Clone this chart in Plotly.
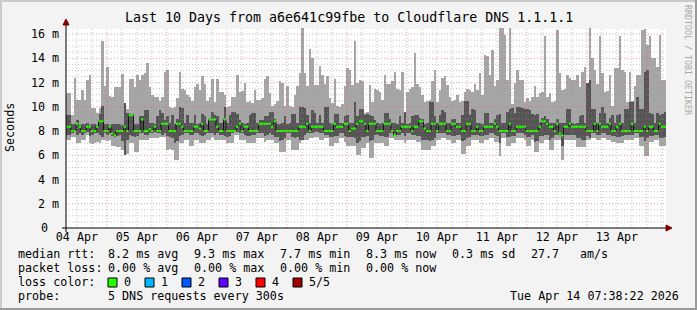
import plotly.graph_objects as go
import pandas as pd

# ---------------- data (hourly consolidated SmokePing values, ms) ----------------
START = "2026-04-04 07:38:22"
END = "2026-04-14 07:38:22"

# max ping (top of light smoke)
MX = [
11.1, 11.1, 9.3, 12.4, 10.6, 10.6, 11.4, 10.6, 12.2, 12.6, 9.9, 9.9, 9.5, 9.9, 15.4, 11.7, 13.3, 10.9, 10.8, 11.6,
11.6, 11.6, 12.7, 10.0, 9.8, 12.3, 12.3, 11.6, 12.6, 12.2, 12.6, 12.8, 13.6, 11.6, 11.0, 10.8, 10.8, 10.5, 10.8, 12.9,
13.0, 10.0, 9.9, 10.0, 10.7, 12.9, 11.5, 11.4, 11.0, 10.8, 10.5, 11.6, 11.9, 11.4, 12.5, 11.9, 10.5, 10.8, 12.3, 10.4,
12.3, 11.2, 11.2, 11.0, 10.0, 10.1, 10.8, 10.8, 12.6, 11.2, 11.3, 12.0, 10.4, 10.5, 10.3, 11.4, 10.6, 10.6, 10.7, 12.3,
12.5, 11.1, 10.1, 10.2, 10.5, 12.1, 12.0, 10.1, 11.7, 10.1, 10.0, 11.0, 11.7, 12.8, 16.5, 12.8, 11.7, 14.8, 14.0, 11.8,
11.8, 13.4, 12.6, 11.9, 12.5, 10.7, 10.3, 12.3, 10.1, 10.0, 10.2, 11.7, 13.2, 13.0, 11.8, 15.4, 12.0, 12.2, 12.1, 9.5,
9.6, 11.8, 10.4, 11.5, 11.4, 11.2, 10.6, 12.6, 11.9, 11.9, 12.1, 12.9, 11.5, 11.4, 12.9, 9.5, 11.2, 11.5, 11.6, 14.4,
11.9, 11.6, 11.0, 10.4, 10.5, 10.6, 12.1, 13.0, 10.4, 11.4, 12.4, 12.5, 11.8, 10.8, 10.5, 10.6, 11.0, 10.4, 10.5, 11.2,
11.5, 11.4, 11.2, 11.9, 11.4, 12.8, 11.0, 14.3, 14.2, 12.6, 14.7, 11.7, 12.2, 16.6, 16.5, 15.9, 12.2, 16.6, 10.2, 12.0,
13.0, 12.2, 12.2, 10.4, 10.7, 10.5, 10.8, 11.7, 10.8, 11.1, 11.2, 15.8, 10.8, 11.1, 10.4, 10.5, 16.3, 12.8, 11.4, 11.5,
12.6, 12.4, 12.2, 12.2, 12.6, 11.6, 12.9, 13.3, 11.5, 16.5, 14.0, 13.0, 11.9, 15.8, 12.8, 11.2, 11.3, 12.6, 10.1, 13.2,
13.2, 15.8, 13.0, 12.9, 10.4, 12.9, 10.5, 11.7, 12.6, 12.6, 16.3, 16.4, 15.1, 15.8, 14.0, 14.0, 13.3, 15.9, 12.2, 12.2,
]

# min ping (bottom of light smoke)
MN = [
7.3, 7.3, 7.5, 7.5, 7.0, 7.0, 7.3, 7.3, 7.7, 7.0, 6.9, 7.0, 7.1, 7.0, 7.3, 7.3, 7.2, 7.3, 6.8, 6.8,
6.7, 6.7, 6.4, 6.0, 6.1, 7.0, 7.0, 6.3, 6.3, 7.3, 7.3, 7.3, 7.3, 7.4, 7.4, 7.4, 7.4, 7.5, 7.5, 7.5,
6.4, 6.5, 6.4, 5.6, 5.6, 7.0, 7.0, 7.3, 7.3, 6.8, 6.8, 7.3, 7.3, 7.0, 7.0, 7.0, 7.3, 7.3, 7.5, 7.3,
7.3, 7.3, 7.3, 7.3, 7.0, 7.0, 7.0, 7.7, 7.7, 7.3, 7.3, 7.3, 7.0, 7.0, 7.0, 7.0, 7.4, 7.4, 7.4, 7.1,
7.3, 7.3, 7.3, 7.0, 7.0, 6.3, 6.3, 6.3, 7.3, 7.3, 6.4, 6.4, 6.4, 7.0, 7.3, 7.3, 7.3, 7.4, 7.4, 7.5,
7.5, 7.3, 7.3, 7.4, 7.4, 6.8, 6.8, 7.0, 7.0, 7.4, 7.4, 7.1, 6.8, 6.8, 6.8, 6.8, 6.0, 6.0, 6.6, 6.6,
7.0, 5.8, 5.8, 7.0, 7.0, 7.0, 7.0, 6.8, 6.8, 7.4, 7.4, 7.3, 7.3, 7.3, 7.3, 7.0, 7.3, 7.3, 7.3, 7.3,
7.1, 7.1, 6.4, 6.4, 6.4, 6.4, 6.8, 6.8, 7.3, 7.3, 7.4, 7.4, 7.3, 7.3, 7.0, 7.0, 7.3, 7.3, 6.1, 6.1,
6.8, 6.8, 7.3, 7.3, 7.3, 7.0, 7.0, 7.3, 7.3, 7.4, 7.4, 7.1, 7.1, 5.9, 7.4, 7.4, 6.8, 6.8, 7.0, 7.0,
7.4, 7.4, 7.4, 7.3, 6.8, 6.8, 7.3, 6.3, 6.3, 7.0, 7.0, 7.3, 7.3, 6.4, 6.4, 7.3, 7.3, 7.3, 5.6, 7.3,
7.3, 7.3, 7.3, 7.3, 6.7, 6.7, 6.7, 6.7, 7.3, 7.3, 7.4, 7.4, 7.3, 7.3, 7.4, 7.4, 7.3, 7.3, 7.1, 7.1,
7.0, 7.0, 7.0, 7.3, 7.3, 7.3, 7.3, 7.4, 7.4, 6.8, 6.8, 5.9, 5.9, 7.1, 7.1, 7.3, 7.3, 6.8, 6.8, 6.8,
]

# inner smoke (2nd highest / 2nd lowest ping)
DHI = [
9.3, 9.3, 8.6, 8.55, 8.9, 8.5, 8.55, 8.6, 8.65, 8.5, 8.55, 8.6, 8.5, 9.4, 10.1, 8.6, 8.55, 8.5, 8.6, 8.55,
8.55, 8.6, 8.5, 10.3, 9.5, 9.4, 9.4, 8.55, 8.6, 9.2, 9.2, 9.7, 9.7, 8.65, 8.65, 8.6, 9.2, 9.7, 9.5, 8.9,
9.2, 8.7, 9.3, 8.6, 9.0, 10.0, 9.9, 8.7, 9.3, 8.65, 8.7, 9.3, 8.6, 8.7, 9.4, 9.2, 8.6, 9.1, 9.6, 9.3,
9.2, 8.7, 8.65, 10.0, 8.7, 9.3, 9.6, 9.6, 9.4, 8.9, 8.7, 8.6, 8.65, 9.3, 9.5, 9.5, 8.65, 8.9, 8.9, 9.2,
9.2, 9.6, 9.6, 9.0, 8.55, 8.6, 8.65, 9.2, 8.6, 8.65, 9.4, 9.4, 8.7, 10.0, 10.0, 9.9, 9.3, 8.7, 9.7, 9.5,
8.7, 9.3, 8.65, 10.0, 10.0, 8.65, 8.6, 9.4, 9.4, 8.7, 8.65, 9.2, 9.3, 8.65, 8.7, 10.4, 9.2, 9.8, 9.8, 9.3,
9.4, 9.3, 9.2, 8.9, 8.7, 8.6, 8.7, 9.5, 9.5, 9.0, 8.65, 8.7, 8.6, 9.2, 8.65, 9.6, 8.6, 8.65, 9.2, 9.3,
9.3, 9.1, 9.0, 8.6, 8.65, 10.4, 10.4, 9.2, 8.65, 9.3, 9.7, 9.6, 8.65, 8.7, 9.0, 9.0, 8.7, 8.65, 9.3, 10.5,
10.5, 9.3, 9.8, 9.7, 8.7, 8.65, 8.6, 9.5, 9.5, 8.7, 8.65, 9.0, 9.3, 9.4, 8.7, 8.7, 9.6, 9.8, 9.9, 9.5,
10.0, 10.0, 9.9, 9.8, 9.8, 9.7, 9.4, 9.3, 9.4, 8.7, 9.1, 9.2, 9.0, 8.65, 8.7, 8.65, 9.0, 8.65, 8.7, 8.65,
9.8, 9.8, 8.7, 8.6, 8.65, 9.2, 9.3, 8.65, 12.0, 12.2, 9.8, 9.8, 8.7, 9.5, 10.0, 9.5, 8.7, 9.1, 9.3, 8.7,
9.3, 9.4, 8.7, 9.8, 9.8, 10.4, 10.4, 8.7, 10.8, 9.8, 9.8, 12.9, 13.0, 9.5, 9.4, 8.7, 9.5, 9.3, 9.4, 9.6,
]
DLO = [
7.7, 7.7, 7.8, 7.9, 7.7, 7.8, 7.7, 7.8, 7.9, 7.6, 7.7, 7.8, 7.8, 7.7, 7.5, 7.8, 7.7, 7.8, 7.6, 7.5,
7.6, 7.7, 7.2, 6.0, 7.3, 7.7, 7.6, 7.5, 7.6, 7.8, 7.8, 7.7, 7.7, 7.8, 7.8, 7.9, 7.8, 7.8, 7.7, 7.8,
7.6, 7.5, 7.4, 7.0, 7.2, 7.6, 7.7, 7.8, 7.8, 7.7, 7.7, 7.8, 7.8, 7.7, 7.6, 7.7, 7.8, 7.8, 7.8, 7.7,
7.8, 7.7, 7.7, 7.6, 7.5, 7.6, 7.8, 7.9, 7.9, 7.8, 7.8, 7.7, 7.6, 7.6, 7.7, 7.7, 7.8, 7.8, 7.8, 7.6,
7.7, 7.8, 7.7, 7.5, 7.5, 7.2, 7.3, 7.4, 7.8, 7.8, 7.5, 7.4, 7.5, 7.3, 7.3, 7.7, 7.8, 7.8, 7.8, 7.9,
7.9, 7.8, 7.8, 7.7, 7.7, 7.5, 7.5, 7.6, 7.6, 7.8, 7.8, 7.6, 7.5, 7.5, 7.5, 7.4, 7.0, 7.2, 7.5, 7.5,
7.6, 7.2, 7.3, 7.7, 7.7, 7.6, 7.6, 7.5, 7.5, 7.8, 7.8, 7.8, 7.7, 7.7, 7.8, 7.6, 7.8, 7.8, 7.7, 7.7,
7.6, 7.6, 7.3, 7.3, 7.3, 7.2, 7.3, 7.4, 7.8, 7.8, 7.8, 7.8, 7.7, 7.7, 7.6, 7.6, 7.7, 7.7, 7.2, 7.3,
7.4, 7.5, 7.7, 7.7, 7.7, 7.6, 7.6, 7.7, 7.7, 7.8, 7.8, 7.7, 7.6, 7.0, 7.8, 7.8, 7.5, 7.5, 7.6, 7.6,
7.8, 7.8, 7.8, 7.7, 7.5, 7.5, 7.7, 7.1, 7.2, 7.6, 7.6, 7.7, 7.7, 7.3, 7.4, 7.7, 7.7, 7.7, 6.8, 7.7,
7.7, 7.7, 7.7, 7.7, 7.4, 7.4, 7.3, 7.3, 7.6, 7.4, 7.8, 7.8, 7.7, 7.7, 7.8, 7.8, 7.7, 7.7, 7.6, 7.6,
7.5, 7.5, 7.6, 7.7, 7.7, 7.7, 7.7, 7.8, 7.8, 7.5, 7.5, 7.2, 7.4, 7.6, 7.6, 7.7, 7.7, 7.4, 7.4, 7.5,
]

# median rtt
MED = [
8.35, 8.35, 8.0, 8.0, 8.6, 8.35, 8.0, 8.0, 8.35, 8.35, 8.0, 8.0, 8.35, 8.8, 8.8, 8.0, 8.0, 8.35, 7.8, 7.65,
8.0, 8.0, 8.0, 8.35, 8.0, 9.3, 9.3, 8.0, 8.0, 8.0, 8.95, 8.0, 8.0, 8.15, 8.0, 8.35, 8.0, 8.0, 8.6, 8.6,
8.6, 8.0, 8.0, 8.0, 8.6, 8.6, 8.35, 8.0, 8.0, 8.0, 8.0, 8.35, 8.35, 8.2, 8.6, 8.0, 8.0, 8.95, 8.95, 8.95,
8.35, 8.0, 8.0, 8.95, 8.0, 8.0, 8.0, 8.0, 8.35, 8.6, 8.0, 8.35, 8.35, 8.0, 8.0, 8.0, 8.0, 8.6, 8.6, 8.6,
8.6, 8.6, 8.35, 8.8, 8.0, 8.0, 8.0, 8.0, 8.0, 8.0, 8.0, 8.0, 8.0, 8.35, 8.35, 8.35, 8.6, 8.0, 8.35, 8.35,
8.35, 8.35, 8.35, 8.0, 8.0, 8.0, 8.0, 8.6, 8.35, 8.35, 8.35, 8.6, 8.6, 8.0, 8.2, 8.2, 8.6, 8.8, 8.8, 8.6,
8.0, 8.6, 8.6, 8.6, 8.0, 8.0, 8.0, 8.6, 8.6, 8.6, 8.0, 7.65, 8.0, 8.0, 8.35, 8.35, 8.35, 8.35, 8.0, 8.35,
8.35, 8.8, 8.8, 8.2, 8.0, 8.0, 8.6, 8.6, 8.0, 8.6, 8.6, 8.6, 8.0, 8.0, 8.6, 8.6, 8.35, 8.35, 8.0, 8.0,
8.6, 8.6, 8.0, 8.0, 8.35, 8.0, 8.0, 8.35, 8.35, 8.35, 8.35, 8.6, 8.35, 8.0, 8.0, 8.0, 8.0, 8.6, 8.0, 8.0,
8.35, 8.35, 8.35, 8.35, 8.0, 8.0, 8.0, 8.0, 8.0, 8.35, 8.8, 8.8, 8.6, 8.35, 8.35, 8.0, 8.6, 7.8, 7.65, 8.35,
8.35, 8.6, 8.35, 8.35, 8.35, 8.35, 8.35, 8.35, 8.0, 8.0, 8.0, 8.6, 8.0, 8.6, 8.35, 8.35, 8.35, 8.6, 8.0, 8.0,
8.35, 8.6, 8.0, 8.0, 8.0, 8.0, 8.6, 8.0, 8.0, 8.0, 8.0, 8.35, 8.0, 8.35, 8.35, 8.0, 8.0, 8.6, 8.35, 8.35,
]

for arr in (MX, MN, DHI, DLO, MED):
    assert len(arr) == 240, len(arr)

DAY_LABELS = ["04 Apr", "05 Apr", "06 Apr", "07 Apr", "08 Apr",
              "09 Apr", "10 Apr", "11 Apr", "12 Apr", "13 Apr"]
DAY_NOONS = ["2026-04-%02d 12:00" % d for d in range(4, 14)]
Y_TICKS = [0, 2, 4, 6, 8, 10, 12, 14, 16]

TITLE = "Last 10 Days from a6e641c99fbe to Cloudflare DNS 1.1.1.1"
ROW1 = [("median rtt:", 16), ("8.2 ms avg", 106), ("9.3 ms max", 192), ("7.7 ms min", 278),
        ("8.3 ms now", 364), ("0.3 ms sd", 450), ("27.7", 529), ("am/s", 578)]
ROW2 = [("packet loss:", 16), ("0.00 % avg", 106), ("0.00 % max", 192), ("0.00 % min", 278),
        ("0.00 % now", 364)]
LOSS_LABELS = ["0", "1", "2", "3", "4", "5/5"]
LOSS_COLORS = ["#26ff00", "#00b8ff", "#0059ff", "#5e00ff", "#ff0000", "#a00000"]
PROBE = "5 DNS requests every 300s"
STAMP = "Tue Apr 14 07:38:22 2026"

# ---------------- geometry helpers (pixel -> paper) ----------------
W, H = 697, 310
L, R, T, B = 66, 31, 28, 82
PW, PH = W - L - R, H - T - B


def px(x):
    return (x - L) / PW


def py(y):
    return (T + PH - y) / PH


t0 = pd.Timestamp(START)
centers = [t0 + pd.Timedelta(minutes=30) + pd.Timedelta(hours=i) for i in range(240)]
edges = [t0 + pd.Timedelta(hours=i) for i in range(241)]

# median segments (one short horizontal run per hourly bin)
seg_x, seg_y = [], []
for i, m in enumerate(MED):
    seg_x += [edges[i], edges[i + 1], None]
    seg_y += [m, m, None]

fig = go.Figure()
fig.add_trace(go.Bar(x=centers, y=[a - b for a, b in zip(MX, MN)], base=MN,
                     width=3600000, marker=dict(color="#a6a6a6", line=dict(width=0)),
                     hoverinfo="skip"))
fig.add_trace(go.Bar(x=centers, y=[a - b for a, b in zip(DHI, DLO)], base=DLO,
                     width=3600000, marker=dict(color="#555555", line=dict(width=0)),
                     hoverinfo="skip"))
fig.add_trace(go.Scatter(x=edges, y=MED + [MED[-1]], mode="lines",
                         line=dict(color="#111111", width=1, shape="hv"), hoverinfo="skip"))
fig.add_trace(go.Scatter(x=seg_x, y=seg_y, mode="lines", connectgaps=False,
                         line=dict(color=LOSS_COLORS[0], width=2), hoverinfo="skip"))

shapes = []
MINOR = "rgba(150,150,150,0.55)"
MAJOR = "rgba(230,80,80,0.55)"
# vertical grid
for t in pd.date_range("2026-04-04 12:00", "2026-04-14 06:00", freq="6h"):
    major = t.hour == 0
    shapes.append(dict(type="line", xref="x", yref="paper", x0=t, x1=t, y0=0, y1=1,
                       layer="above", line=dict(color=MAJOR if major else MINOR, width=1, dash="1px,2px")))
# horizontal grid
for k in range(1, 34):
    v = k * 0.5
    major = (k % 4 == 0)
    shapes.append(dict(type="line", xref="paper", yref="y", x0=0, x1=1, y0=v, y1=v,
                       layer="above", line=dict(color=MAJOR if major else MINOR, width=1, dash="1px,2px")))
# axes
shapes.append(dict(type="line", xref="paper", yref="paper", x0=px(62), x1=px(667), y0=0, y1=0,
                   layer="above", line=dict(color="#000000", width=1)))
shapes.append(dict(type="line", xref="paper", yref="paper", x0=0, x1=0, y0=py(232), y1=py(23),
                   layer="above", line=dict(color="#000000", width=1)))
shapes.append(dict(type="path", xref="paper", yref="paper", layer="above",
                   path="M %f,%f L %f,%f L %f,%f Z" % (px(666), py(225), px(672), py(228), px(666), py(231)),
                   fillcolor="#800000", line=dict(color="#800000", width=1)))
shapes.append(dict(type="path", xref="paper", yref="paper", layer="above",
                   path="M %f,%f L %f,%f L %f,%f Z" % (px(63), py(25), px(66), py(19), px(69), py(25)),
                   fillcolor="#800000", line=dict(color="#800000", width=1)))
# loss colour boxes
box_x = [108, 145, 182, 219, 256, 293]
for bx, c in zip(box_x, LOSS_COLORS):
    shapes.append(dict(type="rect", xref="paper", yref="paper", x0=px(bx), x1=px(bx + 9),
                       y0=py(287), y1=py(278), fillcolor=c, line=dict(color="#000000", width=1)))
# outer frame (shade)
shapes.append(dict(type="line", xref="paper", yref="paper", x0=px(0), x1=px(W), y0=py(1), y1=py(1),
                   line=dict(color="#cbcbcb", width=2)))
shapes.append(dict(type="line", xref="paper", yref="paper", x0=px(1), x1=px(1), y0=py(0), y1=py(H),
                   line=dict(color="#cbcbcb", width=2)))
shapes.append(dict(type="line", xref="paper", yref="paper", x0=px(0), x1=px(W), y0=py(H - 1), y1=py(H - 1),
                   line=dict(color="#999999", width=2)))
shapes.append(dict(type="line", xref="paper", yref="paper", x0=px(W - 1), x1=px(W - 1), y0=py(0), y1=py(H),
                   line=dict(color="#999999", width=2)))

MONO = "DejaVu Sans Mono"
FS = 11.7
ann = []
for v in Y_TICKS:
    if v == 0:
        ann.append(dict(text="0", x=px(50), y=v, xref="paper", yref="y", xanchor="right",
                        yanchor="middle", showarrow=False, font=dict(family=MONO, size=FS, color="#000")))
    else:
        ann.append(dict(text="%d m" % v, x=px(61), y=v, xref="paper", yref="y", xanchor="right",
                        yanchor="middle", showarrow=False, font=dict(family=MONO, size=FS, color="#000")))
ann.append(dict(text="Seconds", x=px(10), y=0.5, xref="paper", yref="paper", textangle=-90,
                showarrow=False, xanchor="center", yanchor="middle",
                font=dict(family=MONO, size=FS, color="#000")))
ann.append(dict(text=TITLE, x=px(348.5), y=py(18), xref="paper", yref="paper", showarrow=False,
                xanchor="center", yanchor="middle", font=dict(family=MONO, size=13.3, color="#000")))
ann.append(dict(text="RRDTOOL / TOBI OETIKER", x=px(688), y=py(60), xref="paper", yref="paper",
                textangle=90, showarrow=False, xanchor="center", yanchor="middle",
                font=dict(family=MONO, size=8.3, color="#a8a8a8")))


def txt(s, x, y, anchor="left"):
    ann.append(dict(text=s, x=px(x), y=py(y), xref="paper", yref="paper", showarrow=False,
                    xanchor=anchor, yanchor="middle", font=dict(family=MONO, size=FS, color="#000")))


for s, x in ROW1:
    txt(s, x, 254)
for s, x in ROW2:
    txt(s, x, 268)
txt("loss color:", 16, 282)
for lab, bx in zip(LOSS_LABELS, box_x):
    txt(lab, bx + 14, 282)
txt("probe:", 16, 296)
txt(PROBE, 106, 296)
txt(STAMP, 681, 296, anchor="right")

fig.update_layout(
    width=W, height=H,
    margin=dict(l=L, r=R, t=T, b=B, pad=0),
    paper_bgcolor="#f3f3f3", plot_bgcolor="#ffffff",
    barmode="overlay", bargap=0, showlegend=False,
    shapes=shapes, annotations=ann,
    xaxis=dict(type="date", range=[START, END], showgrid=False, zeroline=False,
               tickvals=DAY_NOONS, ticktext=DAY_LABELS, ticks="", ticklen=0,
               showline=False,
               tickfont=dict(family=MONO, size=FS, color="#000")),
    yaxis=dict(range=[0, 16.5], showgrid=False, zeroline=False, showticklabels=False,
               ticks="", showline=False),
)

fig.write_html("out.html")
